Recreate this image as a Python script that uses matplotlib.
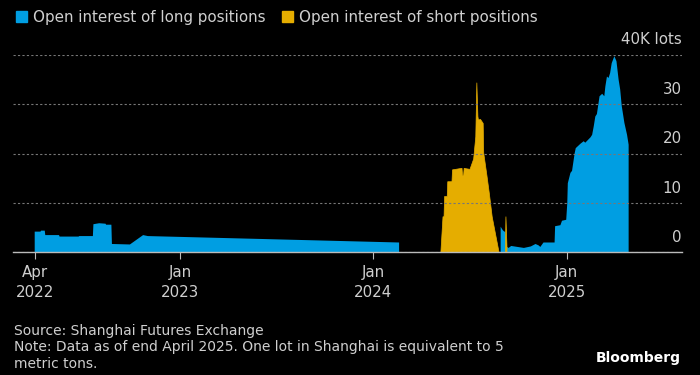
import numpy as np
import pandas as pd
import matplotlib.pyplot as plt
import matplotlib.transforms as mtransforms
from matplotlib.patches import Patch

# Open interest of long positions (K lots); NaN marks a gap in the data
long_dates = ["2022-04-01", "2022-04-12", "2022-04-13", "2022-04-20", "2022-04-21",
              "2022-05-17", "2022-05-18", "2022-06-23", "2022-06-24", "2022-07-20",
              "2022-07-21", "2022-08-01", "2022-08-13", "2022-08-14", "2022-08-24",
              "2022-08-25", "2022-09-28", "2022-10-23", "2022-11-01", "2024-02-19",
              "2024-02-20",
              "2024-08-29", "2024-09-02", "2024-09-05", "2024-09-07", "2024-09-10",
              "2024-09-13", "2024-09-18", "2024-09-30", "2024-10-12", "2024-10-25",
              "2024-11-03", "2024-11-09", "2024-11-12", "2024-11-18", "2024-12-09",
              "2024-12-10", "2024-12-20", "2024-12-23", "2024-12-31", "2025-01-02",
              "2025-01-03", "2025-01-08", "2025-01-11", "2025-01-16", "2025-01-18",
              "2025-01-27", "2025-02-02", "2025-02-05", "2025-02-15", "2025-02-18",
              "2025-02-21", "2025-02-24", "2025-02-27", "2025-03-04", "2025-03-09",
              "2025-03-13", "2025-03-15", "2025-03-18", "2025-03-21", "2025-03-24",
              "2025-03-27", "2025-04-01", "2025-04-05", "2025-04-09", "2025-04-12",
              "2025-04-15", "2025-04-20", "2025-04-25", "2025-04-28"]
long_values = [4.2, 4.2, 4.4, 4.4, 3.5,
               3.5, 3.2, 3.2, 3.3, 3.3,
               5.7, 5.9, 5.8, 5.6, 5.6,
               1.7, 1.6, 3.5, 3.3, 2.0,
               np.nan,
               5.2, 4.5, 4.2, 4.2, 1.1,
               0.9, 1.3, 1.1, 0.9, 1.2,
               1.7, 1.4, 1.1, 2.0, 2.0,
               5.3, 5.5, 6.4, 6.6, 10.0,
               14.0, 16.1, 16.5, 20.1, 21.1,
               22.0, 22.5, 22.2, 23.3, 23.8,
               25.5, 27.5, 28.0, 31.6, 32.1,
               31.6, 33.6, 35.6, 35.3, 36.3,
               38.3, 39.7, 38.7, 35.0, 33.0,
               29.6, 26.2, 23.8, 21.8]

# Open interest of short positions (K lots)
short_dates = ["2024-05-08", "2024-05-12", "2024-05-14", "2024-05-15", "2024-05-20",
               "2024-05-21", "2024-05-29", "2024-05-30", "2024-06-16", "2024-06-17",
               "2024-06-18", "2024-06-20", "2024-06-21", "2024-07-02", "2024-07-09",
               "2024-07-13", "2024-07-15", "2024-07-17", "2024-07-18", "2024-07-22",
               "2024-07-27", "2024-07-28", "2024-08-03", "2024-08-08", "2024-08-13",
               "2024-08-26", "2024-08-27",
               "2024-09-07", "2024-09-08", "2024-09-10"]
short_values = [0.0, 7.2, 7.2, 11.3, 11.3,
                14.3, 14.3, 16.7, 17.0, 17.0,
                15.6, 15.6, 17.0, 16.8, 18.9,
                23.4, 34.3, 27.5, 26.8, 26.9,
                26.1, 20.1, 15.6, 11.6, 7.2,
                0.0, np.nan,
                0.0, 7.2, 1.0]

y_ticks = [0, 10, 20, 30, 40]
y_labels = ["0", "10", "20", "30", "40K lots"]
x_ticks = ["2022-04-01", "2023-01-01", "2024-01-01", "2025-01-01"]
x_labels = ["Apr\n2022", "Jan\n2023", "Jan\n2024", "Jan\n2025"]

blue = "#009ee2"
yellow = "#e5ad00"
text_col = "#cfcfcf"

fig = plt.figure(figsize=(7, 3.75), dpi=100, facecolor="black")
ax = fig.add_axes([0.0186, 0.327, 0.955, 0.527], facecolor="black")

ld = pd.to_datetime(long_dates)
sd = pd.to_datetime(short_dates)
ax.fill_between(ld, 0, np.array(long_values), color=blue, lw=0)
ax.fill_between(sd, 0, np.array(short_values), facecolor=yellow,
                edgecolor=yellow, lw=0.5)

ax.set_ylim(0, 40)
ax.set_xlim(pd.Timestamp("2022-02-19"), pd.Timestamp("2025-08-06"))

for s in ["top", "left", "right"]:
    ax.spines[s].set_visible(False)
ax.spines["bottom"].set_color("#bbbbbb")
ax.spines["bottom"].set_linewidth(1)

ax.set_yticks(y_ticks)
ax.set_yticklabels([])
ax.tick_params(axis="y", length=0)
ax.grid(axis="y", color="#777777", linestyle=(0, (2, 2)), linewidth=0.8)
ax.set_axisbelow(False)

trans = mtransforms.blended_transform_factory(ax.transAxes, ax.transData)
offset = mtransforms.offset_copy(trans, fig=fig, y=7.5, units="points")
for v, lab in zip(y_ticks, y_labels):
    ax.text(1.0, v, lab, transform=offset, ha="right", va="baseline",
            color=text_col, fontsize=10.8)

ax.set_xticks(pd.to_datetime(x_ticks))
ax.set_xticklabels(x_labels, color=text_col, fontsize=10.8, linespacing=1.45)
ax.tick_params(axis="x", length=5, color="#bbbbbb", pad=4)

handles = [Patch(color=blue, label="Open interest of long positions"),
           Patch(color=yellow, label="Open interest of short positions")]
fig.legend(handles=handles, loc="upper left", bbox_to_anchor=(0.004, 1.01), ncol=2,
           frameon=False, handlelength=0.7, handleheight=0.7, handletextpad=0.4,
           columnspacing=1.1, labelcolor=text_col, fontsize=10.9)

fig.text(0.02, 0.108, "Source: Shanghai Futures Exchange", color=text_col, fontsize=10)
fig.text(0.02, 0.063, "Note: Data as of end April 2025. One lot in Shanghai is equivalent to 5",
         color=text_col, fontsize=10)
fig.text(0.02, 0.018, "metric tons.", color=text_col, fontsize=10)
fig.text(0.973, 0.035, "Bloomberg", color="white", fontsize=10, fontweight="bold",
         ha="right")

fig.savefig("out.png", dpi=100, facecolor="black")
